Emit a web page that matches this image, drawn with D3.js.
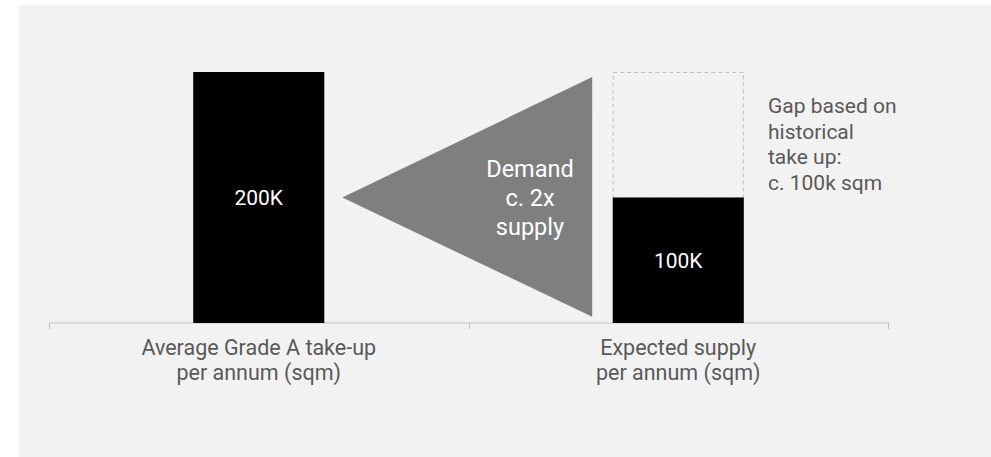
<!DOCTYPE html>
<html>
<head>
<meta charset="utf-8">
<script src="https://cdn.jsdelivr.net/npm/d3@7"></script>
<style>
  html, body { margin: 0; padding: 0; background: #ffffff; }
  svg { display: block; font-family: Roboto, "Noto Sans", sans-serif; }
</style>
</head>
<body>
<svg id="chart" width="991" height="457"></svg>
<script>
// ---- data ----
const categories = [
  ["Average Grade A take-up", "per annum (sqm)"],
  ["Expected supply", "per annum (sqm)"]
];
const values = [200, 100];          // thousand sqm
const valueLabels = ["200K", "100K"];
const gapValues = [0, 100];         // gap based on historical take-up (dashed)
const gapNote = ["Gap based on", "historical", "take up:", "c. 100k sqm"];
const arrowNote = ["Demand", "c. 2x", "supply"];
const yDomain = [0, 200];

// ---- layout ----
const W = 991, H = 457;
const svg = d3.select("#chart");

svg.append("rect").attr("x", 19).attr("y", 5).attr("width", W - 19).attr("height", H - 5)
  .attr("fill", "#f2f2f2");

const x = d3.scaleBand().domain(d3.range(categories.length)).range([49, 888])
  .paddingInner(0.6875).paddingOuter(0.34375);
const y = d3.scaleLinear().domain(yDomain).range([323, 72]);

// axis
const axis = d3.axisBottom(x).tickSize(0).tickFormat("");
const ax = svg.append("g").attr("transform", `translate(0,${y(0)})`).call(axis);
ax.select(".domain").attr("stroke", "#bfbfbf").attr("stroke-width", 1).attr("d", "M49.5,0H888.5");
// boundary ticks between categories
const bounds = [49, 49 + (888 - 49) / 2, 888];
svg.selectAll("line.bt").data(bounds).join("line").attr("class", "bt")
  .attr("x1", d => Math.round(d) + 0.5).attr("x2", d => Math.round(d) + 0.5)
  .attr("y1", y(0)).attr("y2", y(0) + 6)
  .attr("stroke", "#bfbfbf").attr("stroke-width", 1);

// category labels
categories.forEach((lines, i) => {
  const t = svg.append("text").attr("text-anchor", "middle")
    .attr("fill", "#595959").attr("font-size", 21.5);
  lines.forEach((l, j) => {
    t.append("tspan").attr("x", x(i) + x.bandwidth() / 2).attr("y", 355 + j * 25).text(l);
  });
});

// gap dashed boxes
svg.selectAll("rect.gap").data(gapValues.map((g, i) => ({g, i})).filter(d => d.g > 0)).join("rect")
  .attr("class", "gap")
  .attr("x", d => x(d.i) + 0.5)
  .attr("y", d => y(values[d.i] + d.g) + 0.5)
  .attr("width", x.bandwidth() - 1)
  .attr("height", d => y(values[d.i]) - y(values[d.i] + d.g))
  .attr("fill", "none").attr("stroke", "#bfbfbf").attr("stroke-width", 1)
  .attr("stroke-dasharray", "4,3");

// bars
svg.selectAll("rect.bar").data(values).join("rect").attr("class", "bar")
  .attr("x", (d, i) => x(i)).attr("y", d => y(d))
  .attr("width", x.bandwidth()).attr("height", d => y(0) - y(d))
  .attr("fill", "#000000");

svg.selectAll("text.val").data(values).join("text").attr("class", "val")
  .attr("x", (d, i) => x(i) + x.bandwidth() / 2)
  .attr("y", d => (y(d) + y(0)) / 2)
  .attr("dy", "0.36em")
  .attr("text-anchor", "middle").attr("fill", "#ffffff").attr("font-size", 21)
  .text((d, i) => valueLabels[i]);

// arrow triangle between bars
const tipX = x(0) + x.bandwidth() + 18;
const baseX = x(1) - 20.5;
const tipY = y(values[1]);
const tri = [[tipX, tipY], [baseX, y(196)], [baseX, y(5)]];
svg.append("path").attr("d", d3.line()(tri) + "Z").attr("fill", "#7f7f7f");

const at = svg.append("text").attr("text-anchor", "middle").attr("fill", "#ffffff").attr("font-size", 23.5);
arrowNote.forEach((l, j) => {
  at.append("tspan").attr("x", 530).attr("y", tipY - 21 + j * 29).text(l);
});

// gap note
const gt = svg.append("text").attr("fill", "#595959").attr("font-size", 21);
gapNote.forEach((l, j) => {
  gt.append("tspan").attr("x", 768).attr("y", 113 + j * 25.5).text(l);
});
</script>
</body>
</html>
